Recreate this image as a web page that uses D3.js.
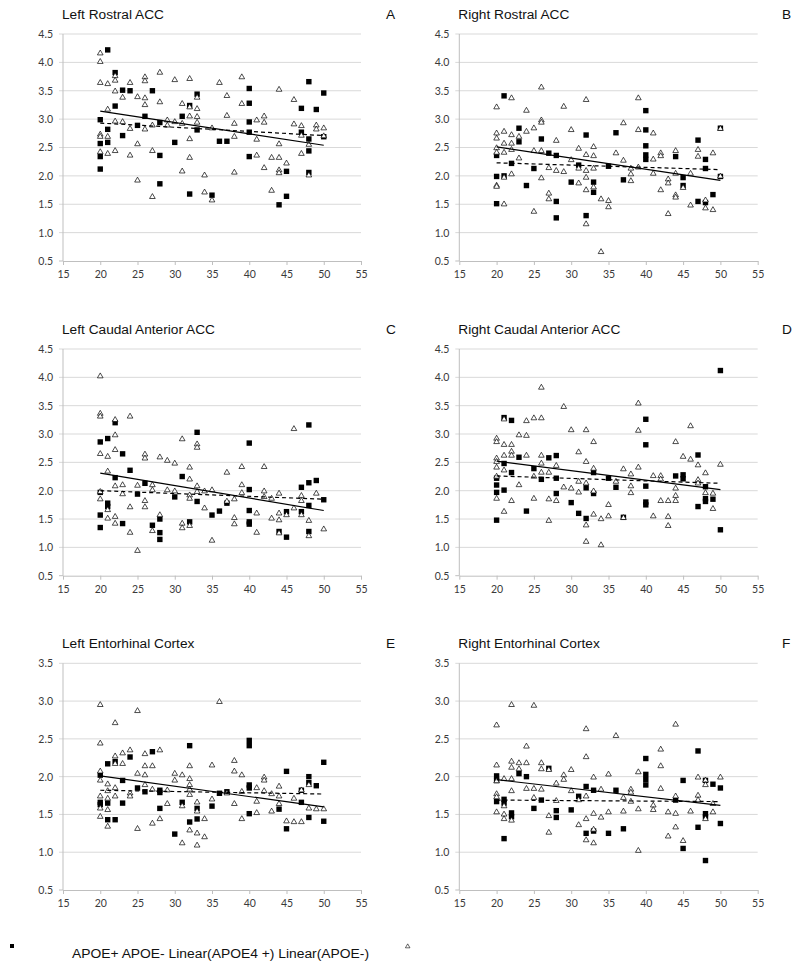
<!DOCTYPE html>
<html>
<head>
<meta charset="utf-8">
<script src="https://cdn.jsdelivr.net/npm/d3@7"></script>
<style>
  html, body { margin: 0; padding: 0; background: #fff; }
  svg { display: block; }
</style>
</head>
<body>
<svg id="chart" width="800" height="971"></svg>
<script>
// ---------------- DATA ----------------
const xTicks = [15, 20, 25, 30, 35, 40, 45, 50, 55];
const yTicksACC = [0.5, 1.0, 1.5, 2.0, 2.5, 3.0, 3.5, 4.0, 4.5];
const yTicksEC = [0.5, 1.0, 1.5, 2.0, 2.5, 3.0, 3.5];
const panelTitles = ["Left Rostral ACC", "Right Rostral ACC", "Left Caudal Anterior ACC",
                     "Right Caudal Anterior ACC", "Left Entorhinal Cortex", "Right Entorhinal Cortex"];
const panelLetters = ["A", "B", "C", "D", "E", "F"];
const legendLabel = "APOE+ APOE- Linear(APOE4 +) Linear(APOE-)";

// APOE+ (filled squares), [age, value]
const posA = [[20,2.99],[20,2.57],[20,2.34],[20,2.12],[21,4.22],[21,2.82],[21,2.59],[22,3.82],[22,3.23],[23,3.51],[23,2.71],[24,3.50],[25,2.89],[26,3.05],[27,3.50],[28,2.94],[28,2.36],[28,1.86],[30,2.59],[31,3.05],[32,3.24],[32,1.68],[33,3.44],[33,2.81],[35,1.66],[36,2.61],[37,2.61],[40,3.54],[40,3.28],[40,2.95],[40,2.77],[40,2.34],[44,1.49],[45,2.08],[45,1.64],[47,3.19],[47,2.77],[48,3.66],[48,2.65],[48,2.44],[48,2.06],[49,3.17],[50,3.46],[50,2.69]];
const posB = [[20,2.36],[20,1.99],[20,1.51],[21,3.41],[21,2.00],[22,2.22],[23,2.84],[23,2.60],[24,1.83],[25,2.13],[26,2.65],[27,2.40],[28,2.36],[28,1.55],[28,1.26],[30,1.89],[31,2.19],[32,2.72],[32,1.30],[33,1.89],[33,1.71],[35,2.17],[36,2.76],[37,1.93],[40,3.15],[40,2.81],[40,2.53],[40,2.37],[40,2.29],[44,2.34],[45,1.97],[45,1.83],[47,2.63],[47,1.55],[48,2.29],[48,2.13],[48,1.53],[49,1.67],[50,2.84],[50,1.99]];
const posC = [[20,2.86],[20,1.97],[20,1.57],[20,1.35],[21,2.92],[21,1.78],[21,1.72],[22,3.20],[22,2.23],[23,2.65],[23,1.42],[24,2.36],[25,1.94],[26,2.13],[27,1.39],[28,1.50],[28,1.26],[28,1.14],[30,1.89],[31,2.25],[32,1.45],[33,3.03],[33,1.81],[35,1.57],[36,1.64],[37,1.78],[40,2.84],[40,2.02],[40,1.65],[40,1.45],[40,1.41],[44,1.28],[45,1.18],[45,1.63],[47,2.06],[47,1.63],[48,3.16],[48,2.14],[48,1.74],[48,1.28],[49,2.18],[50,1.84]];
const posD = [[20,2.22],[20,2.10],[20,1.97],[20,1.48],[21,3.29],[21,2.48],[21,2.01],[22,3.24],[22,2.32],[23,2.59],[24,1.64],[25,2.39],[26,2.20],[27,2.58],[28,2.62],[28,2.22],[28,1.95],[30,1.79],[31,1.60],[32,2.05],[32,1.51],[33,2.32],[33,1.95],[35,2.22],[36,2.06],[37,1.53],[40,3.26],[40,2.81],[40,2.08],[40,1.80],[40,1.75],[44,2.26],[45,2.28],[45,2.21],[47,2.63],[47,1.72],[48,2.07],[48,1.86],[48,1.81],[49,1.85],[50,4.12],[50,1.31]];
const posE = [[20,2.02],[20,1.66],[20,1.63],[21,2.17],[21,1.65],[21,1.43],[22,2.20],[22,1.43],[23,1.95],[23,1.65],[24,2.26],[25,1.85],[26,1.80],[27,2.33],[28,1.82],[28,1.79],[28,1.58],[30,1.24],[31,1.66],[32,2.41],[32,1.40],[33,1.58],[33,1.44],[35,1.61],[36,1.78],[37,1.80],[40,2.48],[40,2.41],[40,1.89],[40,1.85],[40,1.51],[44,1.57],[45,2.07],[45,1.31],[47,1.66],[47,1.82],[48,2.00],[48,1.92],[48,1.46],[49,1.88],[50,2.19],[50,1.41]];
const posF = [[20,2.01],[20,1.95],[20,1.67],[21,1.70],[21,1.65],[21,1.18],[22,1.52],[22,1.47],[23,2.04],[24,2.00],[25,1.58],[26,1.69],[27,2.11],[28,1.55],[28,1.46],[30,1.56],[31,1.74],[32,1.87],[32,1.25],[33,1.82],[33,1.28],[35,1.25],[36,1.82],[37,1.31],[40,2.24],[40,2.03],[40,1.96],[40,1.89],[44,1.69],[45,1.95],[45,1.05],[47,2.34],[47,1.33],[48,1.95],[48,1.51],[48,1.47],[48,0.89],[49,1.90],[50,1.85],[50,1.38]];

// APOE- (open triangles), [age, value]
const negA = [[20,4.16],[20,4.01],[20,3.64],[20,2.73],[20,2.69],[20,2.42],[21,3.62],[21,3.17],[21,2.69],[21,2.39],[22,3.76],[22,3.68],[22,3.49],[22,2.96],[22,2.44],[23,3.38],[23,2.95],[24,3.64],[24,2.83],[24,2.36],[25,3.39],[25,2.56],[25,1.92],[26,3.74],[26,3.67],[26,3.37],[26,3.25],[26,2.82],[27,2.89],[27,2.44],[27,1.63],[28,3.82],[28,3.30],[29,2.98],[29,2.89],[30,3.69],[30,2.95],[31,3.27],[31,2.92],[31,2.08],[32,3.71],[32,3.21],[32,3.05],[32,2.65],[32,2.32],[33,3.38],[33,3.18],[33,3.04],[33,2.94],[34,2.01],[34,1.71],[35,2.84],[35,1.57],[36,3.64],[37,3.41],[37,3.06],[38,2.92],[38,2.69],[38,2.06],[39,3.74],[39,3.27],[41,2.98],[41,2.64],[41,2.36],[42,3.05],[42,2.94],[42,2.14],[43,2.32],[43,1.74],[44,3.52],[44,2.56],[44,2.32],[44,2.10],[44,2.05],[45,2.22],[46,3.34],[46,2.91],[47,2.88],[47,2.71],[47,2.39],[48,2.55],[48,2.01],[49,2.89],[49,2.82],[50,2.84],[50,2.70]];
const negB = [[20,3.21],[20,2.75],[20,2.66],[20,2.49],[20,2.41],[20,1.83],[20,1.81],[21,2.78],[21,2.57],[21,2.41],[21,1.97],[21,1.50],[22,3.37],[22,2.72],[22,2.57],[22,2.46],[22,2.03],[23,2.69],[23,2.31],[24,3.15],[24,2.78],[25,2.84],[25,2.44],[25,1.37],[26,3.56],[26,2.98],[26,2.94],[26,2.44],[26,1.96],[27,1.69],[27,1.59],[27,2.14],[28,2.62],[28,2.09],[29,3.22],[29,2.07],[30,2.81],[30,2.28],[31,2.48],[31,2.13],[31,1.87],[32,3.34],[32,2.37],[32,2.09],[32,1.97],[32,1.75],[32,1.15],[33,2.51],[33,2.35],[33,2.13],[33,1.80],[34,1.59],[34,0.66],[35,1.56],[35,1.45],[36,2.40],[37,2.93],[37,2.27],[38,2.13],[38,2.03],[38,1.91],[39,3.37],[39,2.81],[39,2.15],[41,2.75],[41,2.29],[41,2.04],[42,2.40],[42,2.35],[42,1.75],[43,1.94],[43,1.87],[43,1.33],[44,2.44],[44,2.04],[44,1.66],[44,1.62],[45,1.79],[46,2.04],[46,1.48],[47,2.46],[47,2.34],[48,1.57],[48,1.43],[49,2.40],[49,1.40],[50,2.83],[50,1.99]];
const negC = [[20,4.02],[20,3.36],[20,3.31],[20,2.65],[20,1.98],[20,1.85],[21,2.60],[21,2.34],[21,1.66],[21,1.51],[22,3.25],[22,2.98],[22,2.72],[22,2.08],[22,1.54],[22,1.42],[23,2.10],[23,1.94],[24,3.31],[24,1.71],[24,1.26],[25,2.09],[25,0.94],[26,2.64],[26,2.57],[26,1.82],[26,1.71],[27,2.10],[27,2.01],[27,1.29],[28,2.59],[28,1.57],[29,2.53],[29,2.01],[30,2.48],[30,1.99],[31,2.91],[31,1.42],[31,1.34],[32,2.41],[32,2.20],[32,1.92],[32,1.86],[32,1.38],[33,2.82],[33,2.76],[33,2.08],[33,1.98],[34,1.99],[34,1.69],[35,2.01],[35,1.12],[37,2.32],[37,1.81],[38,1.85],[38,1.52],[38,1.41],[39,2.42],[39,2.10],[39,1.96],[41,1.60],[41,1.26],[42,2.42],[42,1.99],[42,1.89],[43,1.86],[43,1.51],[44,1.95],[44,1.60],[44,1.48],[44,1.25],[45,1.57],[46,3.09],[46,1.69],[47,1.91],[47,1.82],[47,1.57],[48,1.47],[48,1.20],[49,1.95],[50,1.32]];
const negD = [[20,2.92],[20,2.86],[20,2.57],[20,2.51],[20,2.41],[20,2.25],[20,1.86],[21,3.26],[21,2.81],[21,2.62],[21,2.36],[21,1.63],[22,2.81],[22,2.69],[22,2.62],[22,1.82],[23,2.98],[23,2.10],[24,3.23],[24,2.97],[24,2.62],[25,3.28],[25,2.25],[25,1.86],[26,3.82],[26,3.28],[26,2.62],[26,2.48],[26,2.32],[27,2.32],[27,1.85],[27,1.47],[28,2.44],[28,1.82],[29,3.48],[29,2.06],[30,3.07],[30,2.04],[31,2.68],[31,2.16],[31,1.97],[32,3.07],[32,2.51],[32,2.13],[32,1.39],[32,1.10],[33,2.86],[33,2.39],[33,1.99],[33,1.58],[34,1.50],[34,1.04],[35,1.75],[35,1.55],[36,2.16],[37,2.38],[37,1.52],[38,2.29],[38,2.08],[38,1.96],[39,3.54],[39,3.06],[39,2.41],[41,2.26],[41,1.55],[42,2.26],[42,2.20],[42,1.82],[43,1.82],[43,1.54],[43,1.38],[44,2.86],[44,2.04],[44,1.91],[44,1.82],[45,2.60],[46,3.14],[46,2.55],[47,2.45],[47,2.19],[47,2.13],[48,2.31],[48,1.96],[49,1.95],[49,1.68],[50,2.46]];
const negE = [[20,2.95],[20,2.44],[20,2.07],[20,1.95],[20,1.74],[20,1.58],[20,1.47],[21,1.90],[21,1.81],[21,1.71],[21,1.56],[21,1.34],[22,2.71],[22,2.27],[22,2.17],[22,1.85],[22,1.74],[23,2.31],[23,2.17],[24,2.35],[24,1.78],[24,1.74],[25,2.87],[25,2.04],[25,1.31],[26,2.30],[26,2.14],[26,2.02],[26,1.89],[27,2.14],[27,1.83],[27,1.38],[28,2.35],[28,1.44],[29,1.82],[29,1.64],[30,2.04],[30,1.95],[31,2.02],[31,1.61],[31,1.12],[32,2.14],[32,1.97],[32,1.89],[32,1.83],[32,1.76],[32,1.29],[33,1.66],[33,1.54],[33,1.25],[33,1.09],[34,1.44],[34,1.20],[35,2.15],[35,1.70],[36,2.99],[37,1.78],[38,2.21],[38,2.07],[38,1.64],[39,2.02],[39,1.80],[39,1.44],[41,1.85],[41,1.67],[41,1.52],[42,1.99],[42,1.95],[42,1.81],[43,1.77],[43,1.54],[44,1.87],[44,1.74],[44,1.64],[45,1.41],[46,1.71],[46,1.40],[47,1.82],[47,1.40],[48,1.58],[48,1.89],[49,1.57],[50,1.57]];
const negF = [[20,2.68],[20,2.15],[20,1.94],[20,1.77],[20,1.73],[20,1.53],[21,1.97],[21,1.61],[21,1.50],[21,1.44],[22,2.95],[22,2.20],[22,2.12],[22,1.97],[22,1.81],[22,1.42],[23,2.18],[23,2.10],[24,2.40],[24,2.18],[24,1.84],[25,2.94],[25,1.84],[25,1.72],[26,2.18],[26,2.10],[26,1.83],[27,2.09],[27,1.48],[27,1.26],[28,1.91],[28,1.68],[29,2.02],[29,1.96],[30,2.09],[30,1.81],[31,1.69],[31,1.36],[32,2.63],[32,2.26],[32,1.74],[32,1.44],[32,1.16],[33,1.99],[33,1.51],[33,1.30],[33,1.12],[34,1.83],[34,1.46],[35,2.03],[35,1.53],[36,2.54],[37,1.72],[37,1.54],[38,1.83],[38,1.79],[38,1.67],[39,2.06],[39,1.57],[39,1.02],[41,1.62],[41,1.56],[42,2.36],[42,2.14],[42,1.84],[43,1.53],[43,1.21],[44,2.69],[44,1.74],[44,1.51],[44,1.33],[45,1.15],[46,1.54],[47,1.99],[47,1.75],[47,1.69],[48,1.95],[48,1.89],[48,1.44],[49,1.64],[49,1.53],[50,1.99]];

// Linear trend values at x = 20 and x = 50
const trendX = [20, 50];
const trendPos = [[3.14, 2.54], [2.51, 1.92], [2.31, 1.65], [2.52, 2.02], [2.01, 1.60], [1.96, 1.62]];
const trendNeg = [[2.93, 2.71], [2.23, 2.11], [2.00, 1.85], [2.26, 2.13], [1.82, 1.77], [1.69, 1.67]];

const posSets = [posA, posB, posC, posD, posE, posF];
const negSets = [negA, negB, negC, negD, negE, negF];

// ---------------- LAYOUT ----------------
const colX = [[63, 361], [459.3, 757.7]];
const rows = [
  { yr: [261, 34], dom: [0.5, 4.5], ticks: yTicksACC, titleY: 19 },
  { yr: [575.7, 349], dom: [0.5, 4.5], ticks: yTicksACC, titleY: 334 },
  { yr: [890, 663.3], dom: [0.5, 3.5], ticks: yTicksEC, titleY: 648 }
];
const letterX = [386, 782];

const svg = d3.select("#chart");
const tickFont = "Lato, 'Open Sans', sans-serif";
const titleFont = "'Liberation Sans', Arial, sans-serif";

const triPath = d3.symbol().type(d3.symbolTriangle).size(14)();

for (let i = 0; i < 6; i++) {
  const col = i % 2, row = Math.floor(i / 2);
  const R = rows[row];
  const x = d3.scaleLinear().domain([15, 55]).range(colX[col]);
  const y = d3.scaleLinear().domain(R.dom).range(R.yr);
  const g = svg.append("g");

  // gridlines
  g.selectAll("line.grid").data(R.ticks.slice(1)).join("line")
    .attr("x1", x(15) - 4).attr("x2", x(55))
    .attr("y1", d => y(d)).attr("y2", d => y(d))
    .attr("stroke", "#d9d9d9").attr("stroke-width", 1);
  // left tick at bottom
  g.append("line").attr("x1", x(15) - 4).attr("x2", x(15))
    .attr("y1", y(R.dom[0])).attr("y2", y(R.dom[0]))
    .attr("stroke", "#bfbfbf");
  // vertical axis line
  g.append("line").attr("x1", x(15)).attr("x2", x(15))
    .attr("y1", y(R.dom[1])).attr("y2", y(R.dom[0]))
    .attr("stroke", "#bfbfbf").attr("stroke-width", 1);

  // bottom axis
  const xa = g.append("g").attr("transform", `translate(0,${y(R.dom[0])})`)
    .call(d3.axisBottom(x).tickValues(xTicks).tickSize(4).tickSizeOuter(0).tickPadding(6));
  xa.select(".domain").attr("stroke", "#bfbfbf");
  xa.selectAll(".tick line").attr("stroke", "#bfbfbf");
  xa.selectAll("text").attr("font-family", tickFont).attr("font-size", 10.5).attr("fill", "#3a3a3a");

  // left axis labels
  const ya = g.append("g").attr("transform", `translate(${x(15)},0)`)
    .call(d3.axisLeft(y).tickValues(R.ticks).tickSize(0).tickPadding(10).tickFormat(d3.format(".1f")));
  ya.select(".domain").remove();
  ya.selectAll("text").attr("font-family", tickFont).attr("font-size", 10.5).attr("fill", "#3a3a3a");

  // title and letter
  g.append("text").attr("x", x(15) - 1).attr("y", R.titleY)
    .attr("font-family", titleFont).attr("font-size", 13.7).attr("fill", "#111")
    .text(panelTitles[i]);
  g.append("text").attr("x", letterX[col]).attr("y", R.titleY)
    .attr("font-family", titleFont).attr("font-size", 13.7).attr("fill", "#111")
    .text(panelLetters[i]);

  // APOE+ squares
  const sq = 5.4;
  g.selectAll("rect.pos").data(posSets[i]).join("rect")
    .attr("x", d => x(d[0]) - sq / 2).attr("y", d => y(d[1]) - sq / 2)
    .attr("width", sq).attr("height", sq).attr("fill", "#000");

  // APOE- triangles
  g.selectAll("path.neg").data(negSets[i]).join("path")
    .attr("d", triPath)
    .attr("transform", d => `translate(${x(d[0])},${y(d[1])})`)
    .attr("fill", "#fff").attr("stroke", "#000").attr("stroke-width", 0.7);

  // trend lines
  const line = d3.line().x(d => x(d[0])).y(d => y(d[1]));
  g.append("path").datum(trendX.map((t, k) => [t, trendPos[i][k]]))
    .attr("d", line).attr("fill", "none").attr("stroke", "#000").attr("stroke-width", 1.2);
  g.append("path").datum(trendX.map((t, k) => [t, trendNeg[i][k]]))
    .attr("d", line).attr("fill", "none").attr("stroke", "#000").attr("stroke-width", 1.2)
    .attr("stroke-dasharray", "4,3");
}

// legend
const lg = svg.append("g");
lg.append("rect").attr("x", 10).attr("y", 944).attr("width", 4).attr("height", 4).attr("fill", "#000");
lg.append("text").attr("x", 72).attr("y", 958)
  .attr("font-family", titleFont).attr("font-size", 12).attr("fill", "#111")
  .attr("textLength", 297).attr("lengthAdjust", "spacingAndGlyphs")
  .text(legendLabel);
lg.append("path").attr("d", d3.symbol().type(d3.symbolTriangle).size(9)())
  .attr("transform", "translate(407.7,946.5)")
  .attr("fill", "#fff").attr("stroke", "#000").attr("stroke-width", 0.6);
</script>
</body>
</html>
